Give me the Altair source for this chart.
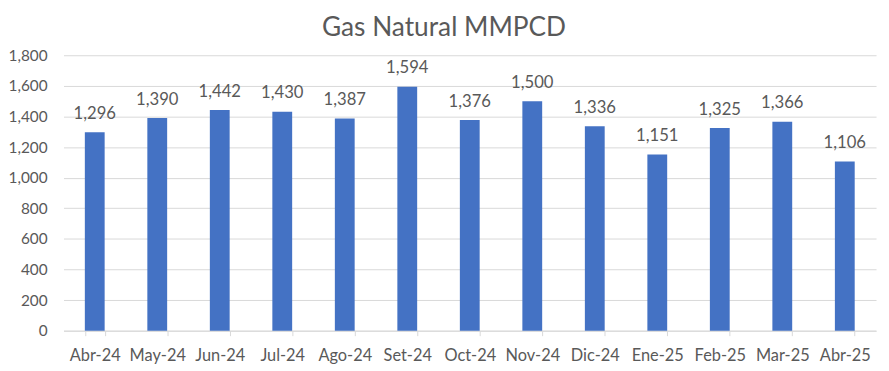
import altair as alt
import pandas as pd

months = ["Abr-24", "May-24", "Jun-24", "Jul-24", "Ago-24", "Set-24", "Oct-24",
          "Nov-24", "Dic-24", "Ene-25", "Feb-25", "Mar-25", "Abr-25"]
values = [1296, 1390, 1442, 1430, 1387, 1594, 1376, 1500, 1336, 1151, 1325, 1366, 1106]
y_ticks = [0, 200, 400, 600, 800, 1000, 1200, 1400, 1600, 1800]

df = pd.DataFrame({"mes": months, "valor": values})

FONT = "Lato"
GRAY = "#595959"
GRID = "#D9D9D9"

x = alt.X("mes:N", sort=months, title=None,
          scale=alt.Scale(paddingInner=0.683, paddingOuter=0.3415),
          axis=alt.Axis(labelAngle=0, labelFont=FONT, labelFontSize=16.5,
                        labelColor=GRAY, labelBaseline="alphabetic",
                        labelPadding=25, tickSize=5, tickColor=GRID,
                        tickBand="extent", domainColor=GRID, grid=False))
y = alt.Y("valor:Q", title=None,
          scale=alt.Scale(domain=[0, 1800], nice=False),
          axis=alt.Axis(values=y_ticks, format=",.0f", labelFont=FONT,
                        labelFontSize=15.5, labelColor=GRAY, labelPadding=16.5,
                        labelOverlap=False,
                        ticks=False, domain=False, gridColor=GRID))

base = alt.Chart(df)
bars = base.mark_bar(color="#4472C4").encode(x=x, y=y)
labels = base.mark_text(font=FONT, fontSize=16.8, color=GRAY,
                        baseline="alphabetic", dy=-13.5).encode(
    x=x, y=y, text=alt.Text("valor:Q", format=",.0f"))

chart = (bars + labels).properties(
    width=820, height=278,
    title=alt.TitleParams("Gas Natural MMPCD", font=FONT, fontSize=26.5,
                          fontWeight="normal", color=GRAY, anchor="middle",
                          baseline="alphabetic", offset=-14, dx=-26),
    autosize=alt.AutoSizeParams(type="none"),
    padding={"left": 56, "top": 46, "right": 5, "bottom": 39},
    background="white",
).configure_view(stroke=None)

chart.save("out.html", embed_options={"renderer": "svg", "actions": False})
